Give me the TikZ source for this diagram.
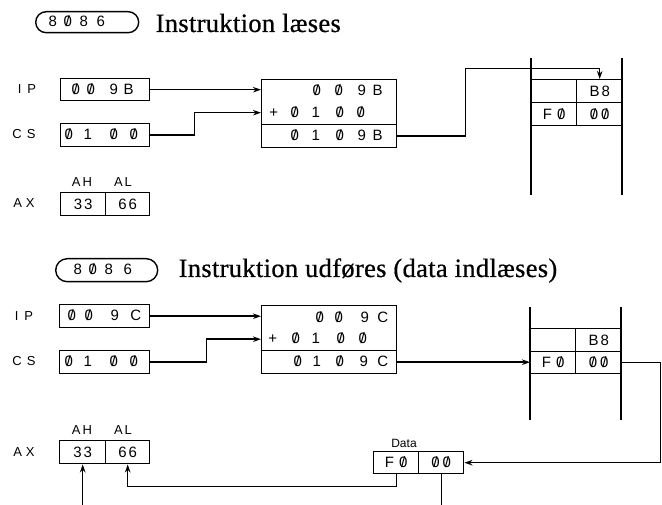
\documentclass[tikz,border=0pt]{standalone}
\usepackage{fontspec}
\setmainfont{Liberation Serif}
\newfontfamily\lsf{Liberation Sans}
\newfontfamily\ttlfont[FakeBold=0.6,LetterSpace=1.2]{Liberation Serif}
\usetikzlibrary{arrows.meta}
\newcommand\zr{\ooalign{0\cr\hidewidth/\hidewidth\cr}}
\newcommand\pc[1]{\makebox[0pt]{#1}}
\begin{document}
\begin{tikzpicture}[x=1pt,y=-1pt,line width=1.4pt,
  cell/.style={draw,line width=1.4pt,inner sep=0pt,anchor=north west,font=\lsf\fontsize{15}{15}\selectfont},
  dig/.style={font=\lsf\fontsize{15}{15}\selectfont,inner sep=0pt,anchor=west},
  lbl/.style={font=\lsf\fontsize{13}{13}\selectfont,inner sep=0pt},
  ttl/.style={font=\ttlfont\fontsize{26.5}{26.5}\selectfont,inner sep=0pt,anchor=base west},
  chip/.style={draw,line width=1.4pt,inner sep=0pt,anchor=north west},
  arr/.style={-{Stealth[length=8pt,width=5.5pt,inset=2.5pt]}},
]
\useasboundingbox (0,0) rectangle (662,505);
\coordinate (bot) at (0,505);

% ---------------- Panel 1 ----------------
\node[chip,rounded corners=10.5pt,minimum width=103pt,minimum height=21pt] (chip1) at (35,11) {};
\node[dig] (chip1t) at (52,21.5) {\pc{8}\hspace{15pt}\pc{\zr}\hspace{16pt}\pc{8}\hspace{17pt}\pc{6}};
\node[ttl] (title1) at (155,32) {Instruktion læses};

\node[lbl] (iplab1) at (27,89) {I\hspace{6pt}P};
\node[lbl] (cslab1) at (24,134.5) {C\hspace{5pt}S};
\node[lbl] (axlab1) at (24,203.5) {A\hspace{4pt}X};
\node[lbl] (ahlab1) at (82,182) {A\hspace{2pt}H};
\node[lbl] (allab1) at (123,182) {A\hspace{2pt}L};

\node[cell,minimum width=89pt,minimum height=22pt] (ip1) at (60,78) {};
\node[dig] (ip1t) at (75,89) {\pc{\zr}\hspace{15pt}\pc{\zr}\hspace{23pt}\pc{9}\hspace{15pt}\pc{B}};
\node[cell,minimum width=89pt,minimum height=23pt] (cs1) at (60,123) {};
\node[dig] (cs1t) at (68,134.5) {\pc{\zr}\hspace{19pt}\pc{1}\hspace{26pt}\pc{\zr}\hspace{20pt}\pc{\zr}};
\node[cell,minimum width=45pt,minimum height=23pt] (ah1) at (60,192) {3\hspace{2pt}3};
\node[cell,minimum width=44pt,minimum height=23pt] (al1) at (105,192) {6\hspace{2pt}6};

\node[cell,minimum width=135pt,minimum height=45pt] (add1top) at (261,79) {};
\node[cell,minimum width=135pt,minimum height=23pt] (add1bot) at (261,124) {};
\node[dig] (add1r1) at (316,90) {\pc{\zr}\hspace{22pt}\pc{\zr}\hspace{23pt}\pc{9}\hspace{16pt}\pc{B}};
\node[dig] (add1r2) at (273,112) {\pc{+}\hspace{21pt}\pc{\zr}\hspace{21pt}\pc{1}\hspace{24pt}\pc{\zr}\hspace{21pt}\pc{\zr}};
\node[dig] (add1r3) at (294,135.5) {\pc{\zr}\hspace{21pt}\pc{1}\hspace{24pt}\pc{\zr}\hspace{22pt}\pc{9}\hspace{16pt}\pc{B}};

% memory 1
\draw (531,58) -- (531,195);
\draw (622,58) -- (622,195);
\node[cell,minimum width=45pt,minimum height=23pt] (m1a) at (531,79) {};
\node[cell,minimum width=46pt,minimum height=23pt] (m1b) at (576,79) {B\hspace{2pt}8};
\node[cell,minimum width=45pt,minimum height=23pt] (m1c) at (531,102) {F\hspace{5pt}\zr};
\node[cell,minimum width=46pt,minimum height=23pt] (m1d) at (576,102) {\zr\hspace{3pt}\zr};

\draw[arr] (ip1.east) -- (ip1.east -| add1top.west);
\draw[arr] (cs1.east) -- ++(44,0) |- ([yshift=-10.5pt]add1top.west);
\draw[arr] (add1bot.east) -- ++(68,0) -- ++(0,-67.5) -| (m1b.north);

% ---------------- Panel 2 ----------------
\node[chip,rounded corners=11.5pt,minimum width=102pt,minimum height=23pt] (chip2) at (55,258) {};
\node[dig] (chip2t) at (77,269.5) {\pc{8}\hspace{15pt}\pc{\zr}\hspace{16pt}\pc{8}\hspace{19pt}\pc{6}};
\node[ttl] (title2) at (178,277) {Instruktion udføres (data indlæses)};

\node[lbl] (iplab2) at (24,316) {I\hspace{6pt}P};
\node[lbl] (cslab2) at (24,361.5) {C\hspace{5pt}S};
\node[lbl] (axlab2) at (24,452) {A\hspace{4pt}X};
\node[lbl] (ahlab2) at (82,430) {A\hspace{2pt}H};
\node[lbl] (allab2) at (123,430) {A\hspace{2pt}L};

\node[cell,minimum width=90pt,minimum height=23pt] (ip2) at (59,304) {};
\node[dig] (ip2t) at (71,315.5) {\pc{\zr}\hspace{17pt}\pc{\zr}\hspace{26pt}\pc{9}\hspace{21pt}\pc{C}};
\node[cell,minimum width=90pt,minimum height=23pt] (cs2) at (59,350) {};
\node[dig] (cs2t) at (68,361.5) {\pc{\zr}\hspace{19pt}\pc{1}\hspace{26pt}\pc{\zr}\hspace{20pt}\pc{\zr}};
\node[cell,minimum width=46pt,minimum height=23pt] (ah2) at (59,440) {3\hspace{2pt}3};
\node[cell,minimum width=44pt,minimum height=23pt] (al2) at (105,440) {6\hspace{2pt}6};

\node[cell,minimum width=135pt,minimum height=45pt] (add2top) at (261,305) {};
\node[cell,minimum width=135pt,minimum height=23pt] (add2bot) at (261,350) {};
\node[dig] (add2r1) at (319,317) {\pc{\zr}\hspace{19pt}\pc{\zr}\hspace{26pt}\pc{9}\hspace{18pt}\pc{C}};
\node[dig] (add2r2) at (272,338) {\pc{+}\hspace{23pt}\pc{\zr}\hspace{20pt}\pc{1}\hspace{25pt}\pc{\zr}\hspace{22pt}\pc{\zr}};
\node[dig] (add2r3) at (297,361.5) {\pc{\zr}\hspace{19pt}\pc{1}\hspace{23pt}\pc{\zr}\hspace{24pt}\pc{9}\hspace{19pt}\pc{C}};

% memory 2
\draw (530,307) -- (530,420);
\draw (621,307) -- (621,420);
\node[cell,minimum width=45pt,minimum height=23pt] (m2a) at (530,328) {};
\node[cell,minimum width=46pt,minimum height=23pt] (m2b) at (575,328) {B\hspace{2pt}8};
\node[cell,minimum width=45pt,minimum height=22pt] (m2c) at (530,351) {F\hspace{5pt}\zr};
\node[cell,minimum width=46pt,minimum height=22pt] (m2d) at (575,351) {\zr\hspace{3pt}\zr};

% data register
\node[lbl,font=\lsf\fontsize{12}{12}\selectfont] (datalab) at (404,443) {Data};
\node[cell,minimum width=45pt,minimum height=22pt] (dataf) at (373,451) {F\hspace{5pt}\zr};
\node[cell,minimum width=45pt,minimum height=22pt] (data0) at (418,451) {\zr\hspace{3pt}\zr};

\draw[arr] (ip2.east) -- (ip2.east -| add2top.west);
\draw[arr] (cs2.east) -- ++(56,0) |- ([yshift=-11pt]add2top.west);
\draw[arr] (add2bot.east) -- (add2bot.east -| m2c.west);
\draw[arr] (m2d.east) -- ++(38,0) |- (data0.east);
\draw[arr] (dataf.south) -- ++(0,12) -| (al2.south);
\draw (data0.south) -- (data0.south |- bot);
\draw[arr] (ah2.south |- bot) -- (ah2.south);
\end{tikzpicture}
\end{document}
